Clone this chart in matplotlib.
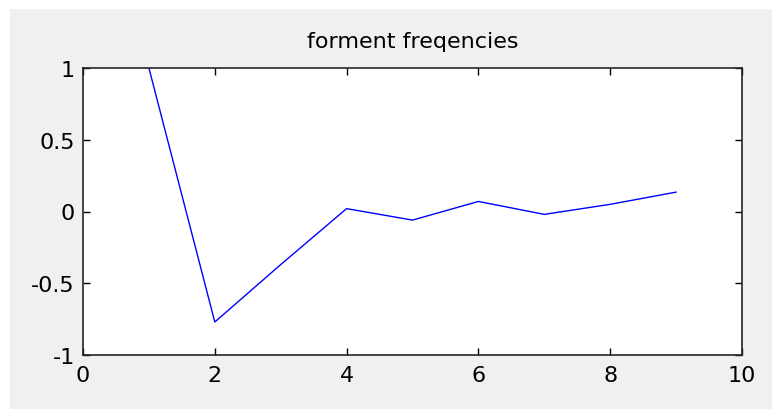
import matplotlib
matplotlib.use("Agg")
import matplotlib.pyplot as plt
from matplotlib.patches import Rectangle

# Coefficient index and value
idx = [1, 2, 3, 4, 5, 6, 7, 8, 9]
coef = [1.0, -0.77, -0.37, 0.02, -0.06, 0.07, -0.02, 0.05, 0.135]

plt.rcParams['font.family'] = ['DejaVu Sans']

fig = plt.figure(figsize=(7.72, 4.10), dpi=100, facecolor='white')
# grey window background with a thin white margin on the top and left
fig.patches.append(Rectangle((10 / 772, 0), 1 - 10 / 772, 400 / 410,
                             transform=fig.transFigure, facecolor='#f0f0f0',
                             edgecolor='none', zorder=-1))

ax = fig.add_axes([83 / 772, 54 / 410, 659 / 772, 287 / 410])
ax.plot(idx, coef, color='#0000ff', lw=1.0)

ax.set_xlim(0, 10)
ax.set_ylim(-1, 1)
ax.set_xticks([0, 2, 4, 6, 8, 10])
ax.set_yticks([-1, -0.5, 0, 0.5, 1])
ax.set_yticklabels(['-1', '-0.5', '0', '0.5', '1'])
ax.tick_params(direction='in', top=True, right=True, length=5, width=1,
               labelsize=16, colors='black')
ax.tick_params(axis='y', pad=6)
ax.tick_params(axis='x', pad=7)
for s in ax.spines.values():
    s.set_linewidth(1.2)
    s.set_color('#262626')

ax.set_title('forment freqencies', fontsize=16, pad=15)

fig.savefig('out.png', dpi=100, facecolor=fig.get_facecolor())
